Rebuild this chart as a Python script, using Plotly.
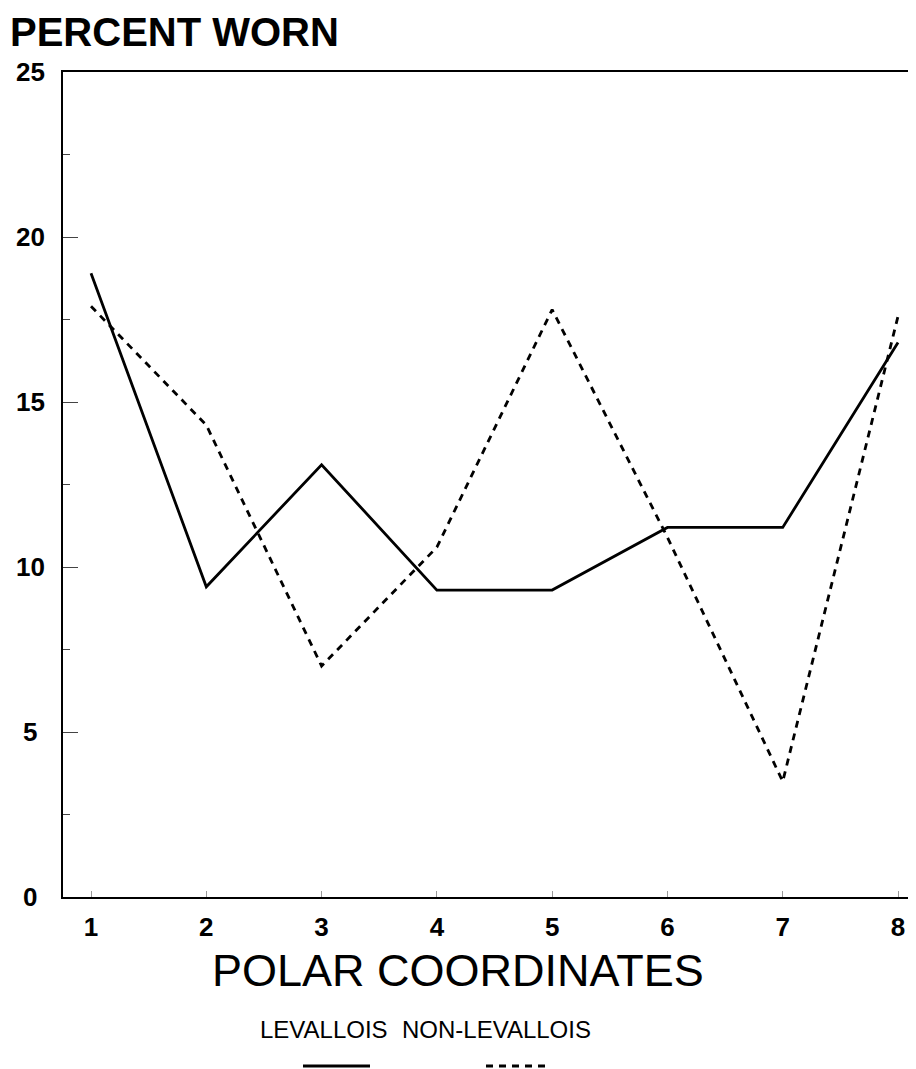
import plotly.graph_objects as go

# ---- data ----
coordinates = [1, 2, 3, 4, 5, 6, 7, 8]
levallois = [18.9, 9.4, 13.1, 9.3, 9.3, 11.2, 11.2, 16.8]
non_levallois = [17.9, 14.3, 7.0, 10.6, 17.8, 10.9, 3.5, 17.6]
y_tick_values = [0, 5, 10, 15, 20, 25]
series_names = ["LEVALLOIS", "NON-LEVALLOIS"]

# page has an 8px body margin; size the figure so the page is 916x1069
OFF = 8
W, H = 916 - OFF, 1069 - OFF
L, R, T = 63 - OFF, 0, 72 - OFF
PLOT_BOTTOM = 897 - OFF
B = H - PLOT_BOTTOM
PW = W - L - R
PH = PLOT_BOTTOM - T


def px_x(px):
    # reference page pixel -> paper x
    return (px - OFF - L) / PW


def px_y(py):
    # reference page pixel -> paper y
    return (PLOT_BOTTOM - (py - OFF)) / PH


FONT = "Liberation Sans, Arial, Helvetica, sans-serif"

fig = go.Figure()
fig.add_trace(go.Scatter(
    x=coordinates, y=levallois, mode="lines", name=series_names[0],
    line=dict(color="black", width=2.8), showlegend=False))
fig.add_trace(go.Scatter(
    x=coordinates, y=non_levallois, mode="lines", name=series_names[1],
    line=dict(color="black", width=2.8, dash="7px,6px"), showlegend=False))

annotations = []
annotations.append(dict(text="<b>PERCENT WORN</b>", xref="paper", yref="paper",
                        x=px_x(8), y=px_y(32), xanchor="left", yanchor="middle",
                        showarrow=False, font=dict(family=FONT, size=40, color="black")))
for v in y_tick_values:
    annotations.append(dict(text=f"<b>{v}</b>", xref="paper", yref="y",
                            x=px_x(30), y=v, xanchor="center", yanchor="middle",
                            showarrow=False, font=dict(family=FONT, size=26, color="black")))
annotations.append(dict(text="POLAR COORDINATES", xref="paper", yref="paper",
                        x=px_x(458), y=px_y(971), xanchor="center", yanchor="middle",
                        showarrow=False, font=dict(family=FONT, size=45, color="black")))
annotations.append(dict(text=series_names[0], xref="paper", yref="paper",
                        x=px_x(324), y=px_y(1030), xanchor="center", yanchor="middle",
                        showarrow=False, font=dict(family=FONT, size=24, color="black")))
annotations.append(dict(text=series_names[1], xref="paper", yref="paper",
                        x=px_x(496), y=px_y(1030), xanchor="center", yanchor="middle",
                        showarrow=False, font=dict(family=FONT, size=24, color="black")))

shapes = [
    dict(type="line", xref="paper", yref="paper", x0=px_x(303), x1=px_x(370),
         y0=px_y(1066), y1=px_y(1066), line=dict(color="black", width=3)),
    dict(type="line", xref="paper", yref="paper", x0=px_x(486), x1=px_x(546),
         y0=px_y(1066), y1=px_y(1066), line=dict(color="black", width=3, dash="7px,6px")),
]

fig.update_layout(
    width=W, height=H,
    margin=dict(l=L, r=R, t=T, b=B),
    paper_bgcolor="white", plot_bgcolor="white",
    annotations=annotations, shapes=shapes,
    font=dict(family=FONT, color="black"),
)
fig.update_xaxes(
    range=[0.757, 8.156], tickmode="array", tickvals=coordinates,
    ticktext=[f"<b>{c}</b>" for c in coordinates],
    tickfont=dict(family=FONT, size=26, color="black"),
    ticks="inside", ticklen=6, tickwidth=1, tickcolor="#999",
    ticklabelstandoff=6,
    showline=True, linecolor="black", linewidth=2, mirror=True,
    showgrid=False, zeroline=False,
)
fig.update_yaxes(
    range=[0, 25], tickmode="array", tickvals=y_tick_values, showticklabels=False,
    ticks="inside", ticklen=15, tickwidth=1, tickcolor="#444",
    minor=dict(ticks="inside", ticklen=7, tickwidth=1, tickcolor="#444", dtick=2.5, tick0=0),
    showline=True, linecolor="black", linewidth=2,
    showgrid=False, zeroline=False,
)

fig.write_html("out.html")
